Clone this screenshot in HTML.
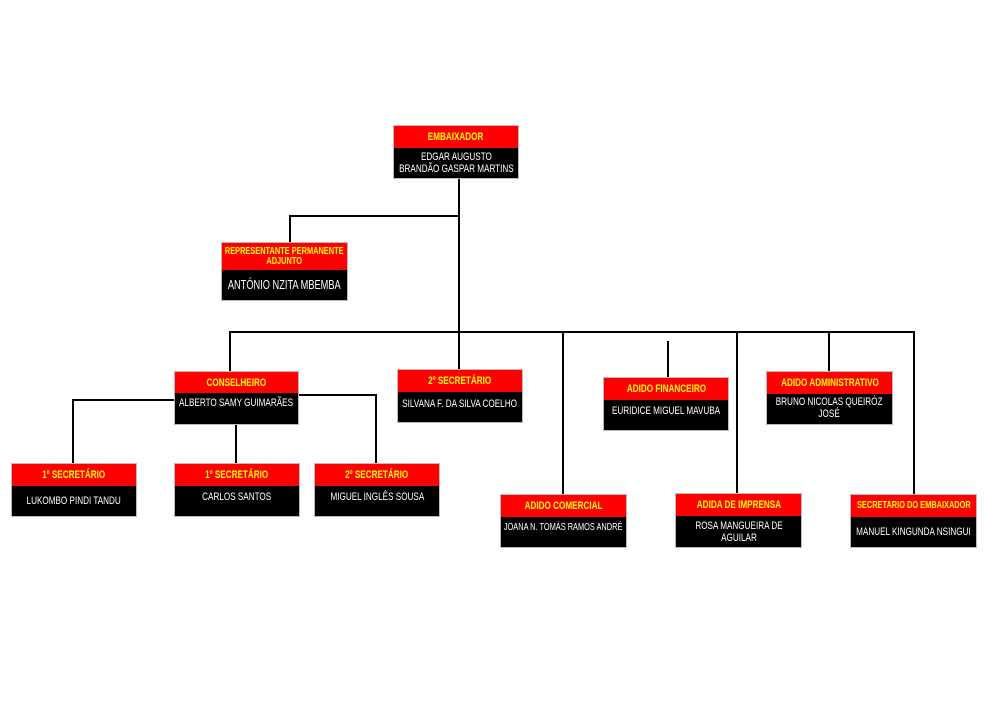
<!DOCTYPE html>
<html><head><meta charset="utf-8"><style>
body{margin:0;width:1000px;height:707px;background:#fff;position:relative;overflow:hidden;font-family:"Liberation Sans",sans-serif;font-weight:bold}
.b{position:absolute;background:#000;box-shadow:0 0 0 1px #bbb}
.h{background:#f00;color:#ff0;text-align:center;font-size:11px;display:flex;align-items:center;justify-content:center;line-height:10px;white-space:nowrap;overflow:visible}
.n{color:#fff;text-align:center;font-size:11px;line-height:12px;display:flex;align-items:center;justify-content:center;white-space:nowrap;font-weight:normal}
.h span,.n span{display:inline-block;transform:scaleX(.74);transform-origin:center}
.l{position:absolute;background:#000}
</style></head><body>
<div class="l" style="left:458px;top:178px;width:2px;height:155px"></div>
<div class="l" style="left:290px;top:215px;width:170px;height:2px"></div>
<div class="l" style="left:289px;top:215px;width:2px;height:28px"></div>
<div class="l" style="left:230px;top:331px;width:685px;height:2px"></div>
<div class="l" style="left:229px;top:331px;width:2px;height:41px"></div>
<div class="l" style="left:458px;top:331px;width:2px;height:39px"></div>
<div class="l" style="left:562px;top:331px;width:2px;height:164px"></div>
<div class="l" style="left:667px;top:341px;width:2px;height:37px"></div>
<div class="l" style="left:736px;top:331px;width:2px;height:163px"></div>
<div class="l" style="left:828px;top:331px;width:2px;height:41px"></div>
<div class="l" style="left:913px;top:331px;width:2px;height:164px"></div>
<div class="l" style="left:73px;top:399px;width:102px;height:2px"></div>
<div class="l" style="left:72px;top:399px;width:2px;height:65px"></div>
<div class="l" style="left:298px;top:394px;width:79px;height:2px"></div>
<div class="l" style="left:375px;top:394px;width:2px;height:70px"></div>
<div class="l" style="left:235px;top:424px;width:2px;height:40px"></div>

<div class="b" style="left:394px;top:126px;width:124px;height:52px"><div class="h" style="height:22px"><span>EMBAIXADOR</span></div><div class="n" style="height:30px"><span>EDGAR AUGUSTO<br>BRANDÃO GASPAR MARTINS</span></div></div>
<div class="b" style="left:222px;top:243px;width:125px;height:57px"><div class="h" style="height:27px;font-size:10px"><span>REPRESENTANTE PERMANENTE<br>ADJUNTO</span></div><div class="n" style="height:30px;font-size:12.5px"><span>ANTÓNIO NZITA MBEMBA</span></div></div>
<div class="b" style="left:175px;top:372px;width:123px;height:52px"><div class="h" style="height:21px"><span>CONSELHEIRO</span></div><div class="n" style="height:20px"><span>ALBERTO SAMY GUIMARÃES</span></div></div>
<div class="b" style="left:398px;top:370px;width:124px;height:52px"><div class="h" style="height:22px"><span>2º SECRETÁRIO</span></div><div class="n" style="height:24px"><span>SILVANA F. DA SILVA COELHO</span></div></div>
<div class="b" style="left:604px;top:378px;width:124px;height:52px"><div class="h" style="height:22px"><span>ADIDO FINANCEIRO</span></div><div class="n" style="height:22px"><span>EURIDICE MIGUEL MAVUBA</span></div></div>
<div class="b" style="left:767px;top:372px;width:125px;height:52px"><div class="h" style="height:22px"><span>ADIDO ADMINISTRATIVO</span></div><div class="n" style="height:28px"><span>BRUNO NICOLAS QUEIRÓZ<br>JOSÉ</span></div></div>
<div class="b" style="left:12px;top:464px;width:124px;height:52px"><div class="h" style="height:22px"><span>1º SECRETÁRIO</span></div><div class="n" style="height:30px"><span>LUKOMBO PINDI TANDU</span></div></div>
<div class="b" style="left:175px;top:464px;width:124px;height:52px"><div class="h" style="height:22px"><span>1º SECRETÁRIO</span></div><div class="n" style="height:22px"><span>CARLOS SANTOS</span></div></div>
<div class="b" style="left:315px;top:464px;width:124px;height:52px"><div class="h" style="height:22px"><span>2º SECRETÁRIO</span></div><div class="n" style="height:22px"><span>MIGUEL INGLÊS SOUSA</span></div></div>
<div class="b" style="left:501px;top:495px;width:125px;height:52px"><div class="h" style="height:22px"><span>ADIDO COMERCIAL</span></div><div class="n" style="height:22px;font-size:10px"><span>JOANA N. TOMÁS RAMOS ANDRÉ</span></div></div>
<div class="b" style="left:676px;top:494px;width:125px;height:53px"><div class="h" style="height:22px"><span>ADIDA DE IMPRENSA</span></div><div class="n" style="height:31px"><span>ROSA MANGUEIRA DE<br>AGUILAR</span></div></div>
<div class="b" style="left:851px;top:495px;width:125px;height:52px"><div class="h" style="height:22px;font-size:10px"><span>SECRETARIO DO EMBAIXADOR</span></div><div class="n" style="height:30px"><span>MANUEL KINGUNDA NSINGUI</span></div></div>
</body></html>
